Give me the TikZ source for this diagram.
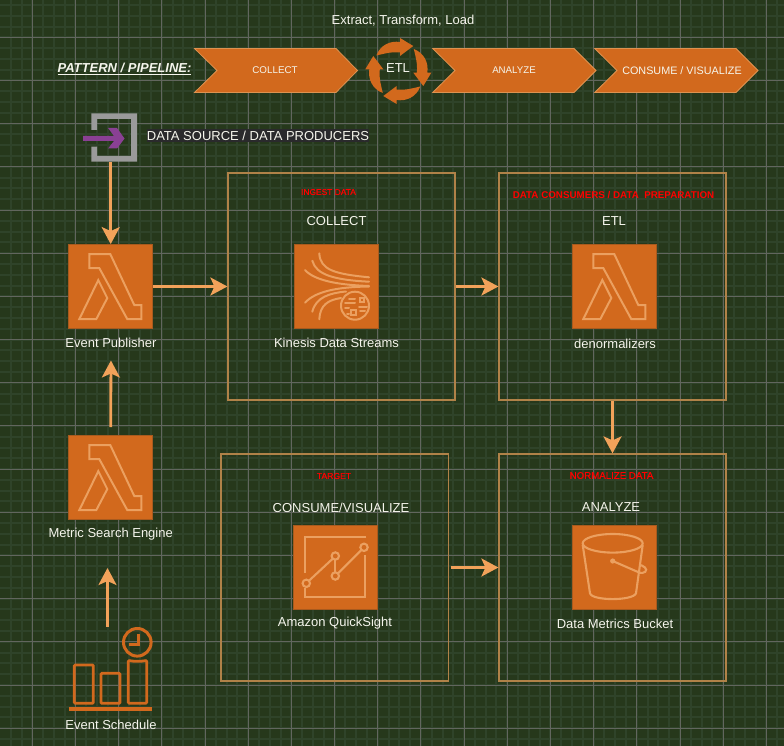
\documentclass[tikz,border=0pt]{standalone}
\usepackage{fontspec}
\setmainfont{Liberation Sans}
\usetikzlibrary{arrows.meta}
\definecolor{bgc}{HTML}{26381B}
\definecolor{gridminor}{HTML}{2F4329}
\definecolor{gridmajor}{HTML}{62665E}
\definecolor{orfill}{HTML}{D2691D}
\definecolor{orline}{HTML}{DD9250}
\definecolor{ordark}{HTML}{A85A1E}
\definecolor{iconc}{HTML}{EBA060}
\definecolor{arrowc}{HTML}{F2A25A}
\definecolor{framec}{HTML}{B08248}
\definecolor{txtc}{HTML}{F5F5EC}
\definecolor{srcgray}{HTML}{9A9A9A}
\definecolor{srcpurple}{HTML}{8A4094}
\definecolor{srcbg}{HTML}{2A2A2C}
\newcommand\fsz[1]{\fontsize{#1}{#1}\selectfont}
\newcommand\lambdaicon[1]{%
  \draw[iconline,shift={(#1.north west)}] (21,10)--(42,10)--(66,61)--(73,61)--(73,75)--(59,75)--(31,24)--(21,24)--cycle;
  \draw[iconline,shift={(#1.north west)}] (30,36)--(39,54)--(28,75)--(11,75)--cycle;}
\tikzset{
  iconbox/.style={draw=ordark,fill=orfill,line width=0.8pt,minimum width=84pt,minimum height=84pt,inner sep=0pt},
  iconline/.style={draw=iconc,line width=2pt,line join=miter},
  frameb/.style={draw=framec,line width=1.2pt,minimum width=#1,minimum height=227pt,inner sep=0pt},
  flow/.style={draw=arrowc,line width=2.8pt,-{Stealth[length=17pt,width=18pt,inset=4pt]}},
  chev/.style={fill=orfill,draw=orline,line width=0.8pt,line join=miter},
  lbl/.style={text=txtc,inner sep=0pt,font=\fsz{13}},
  head/.style={text=txtc,inner sep=0pt,font=\fsz{13}},
  redb/.style={text=red,inner sep=0pt},
  chevt/.style={text=txtc,inner sep=0pt},
}
\begin{document}
\begin{tikzpicture}[x=1pt,y=-1pt]
\useasboundingbox (0,0) rectangle (784,746);
\fill[bgc] (0,0) rectangle (784,746);
% grid
\foreach \i in {-2,...,69} {\draw[gridminor,line width=2pt] ({32.3+10.795*\i},0) -- ({32.3+10.795*\i},746);}
\foreach \i in {-3,...,65} {\draw[gridminor,line width=2pt] (0,{37.3+10.795*\i}) -- (784,{37.3+10.795*\i});}
\foreach \i in {0,...,17} {\draw[gridmajor,line width=0.9pt] ({32.3+43.18*\i},0) -- ({32.3+43.18*\i},746);}
\foreach \i in {0,...,16} {\draw[gridmajor,line width=0.9pt] (0,{37.3+43.18*\i}) -- (784,{37.3+43.18*\i});}

% pipeline
\node[text=txtc,inner sep=0pt,font=\fsz{13}\bfseries\itshape] (pat) at (124.5,69) {\underline{PATTERN / PIPELINE:}};
\draw[chev] (194.5,48.5)--(336,48.5)--(357.5,70.5)--(336,92.5)--(194.5,92.5)--(217,70.5)--cycle;
\node[chevt,font=\fsz{9.8}] (p1) at (275,70.5) {COLLECT};
\draw[chev] (432.7,48.5)--(574,48.5)--(596,70.5)--(574,92.5)--(432.7,92.5)--(455,70.5)--cycle;
\node[chevt,font=\fsz{9.7}] (p2) at (514,70.5) {ANALYZE};
\draw[chev] (594.7,48.5)--(736,48.5)--(758,70.5)--(736,92.5)--(594.7,92.5)--(617,70.5)--cycle;
\node[chevt,font=\fsz{10.8}] (p3) at (682,70.5) {CONSUME / VISUALIZE};
\node[text=txtc,inner sep=0pt,font=\fsz{13}] (etlhead) at (403,20.5) {Extract, Transform, Load};
\foreach \r in {0,90,180,270} {
  \fill[orfill,shift={(398.3,71)},rotate=-\r] (-22,-15.5) .. controls (-18,-26) and (-8,-30.5) .. (1.7,-29) -- (1.7,-33) -- (15,-25) -- (1.7,-15) -- (1.7,-18.5) .. controls (-8,-19.5) and (-15,-17) .. cycle;
}
\node[text=txtc,inner sep=0pt,font=\fsz{13}] (etlc) at (398,68) {ETL};

% data source
\fill[srcgray] (91.3,113.3)--(137,113.3)--(137,161.7)--(91.3,161.7)--(91.3,146.7)--(97,146.7)--(97,156)--(131,156)--(131,119)--(97,119)--(97,130)--(91.3,130)--cycle;
\fill[srcpurple] (108,128)--(117,128)--(124.5,138.5)--(117,148.5)--(108,148.5)--(114,141)--(83,141)--(83,136)--(114,136)--cycle;
\node[fill=srcbg,text=txtc,inner xsep=0pt,inner ysep=1.5pt,font=\fsz{13}] (srct) at (258,135.5) {DATA SOURCE / DATA PRODUCERS};
\coordinate (srcb) at (110.7,162);

% frames
\node[frameb=227pt] (collectf) at (341.5,286.5) {};
\node[frameb=227pt] (etlf) at (612.5,286.5) {};
\node[frameb=227.5pt] (targetf) at (334.8,567.5) {};
\node[frameb=227pt] (normf) at (612.5,567.5) {};

% frame titles
\node[redb,font=\fsz{8.4}\addfontfeature{FakeBold=0.6}] (t1) at (328.5,192) {INGEST DATA};
\node[head] (t1b) at (336.5,221) {COLLECT};
\node[redb,font=\fsz{9.8}\bfseries] (t2) at (613.5,195.5) {DATA CONSUMERS / DATA\ \ PREPARATION};
\node[head] (t2b) at (614,221) {ETL};
\node[redb,font=\fsz{8.6}\addfontfeature{FakeBold=0.6}] (t3) at (334,476) {TARGET};
\node[head] (t3b) at (341,508) {CONSUME/VISUALIZE};
\node[redb,font=\fsz{9.7}\addfontfeature{FakeBold=0.6}] (t4) at (611.5,475.5) {NORMALIZE DATA};
\node[head] (t4b) at (611,507) {ANALYZE};

% icon boxes
\node[iconbox] (pub) at (110.7,286.5) {};
\node[iconbox] (metric) at (110.7,477.5) {};
\node[iconbox] (kin) at (336.5,286.5) {};
\node[iconbox] (den) at (614.7,286.5) {};
\node[iconbox] (qs) at (335,567) {};
\node[iconbox] (bucket) at (614.7,567) {};
\lambdaicon{pub}
\lambdaicon{metric}
\lambdaicon{den}

\node[lbl] (pubt) at (111,342.5) {Event Publisher};
\node[lbl] (kint) at (336.5,342.5) {Kinesis Data Streams};
\node[lbl] (dent) at (615,343.5) {denormalizers};
\node[lbl] (mett) at (110.7,534.5) {Metric Search Engine};
\node[lbl] (qst) at (335,623.5) {Amazon QuickSight};
\node[lbl] (bukt) at (615,623.5) {Data Metrics Bucket};
\node[lbl] (scht) at (111,724.5) {Event Schedule};

% kinesis icon
\begin{scope}[draw=iconc,line width=2pt,line cap=round]
\draw (319.3,253.3) .. controls (320,270) and (335,274) .. (369,277.3);
\draw (312.3,260.7) .. controls (316,275) and (335,280) .. (369,281.7);
\draw (305,270) .. controls (315,281) and (340,285) .. (369,286);
\draw (305,302.7) .. controls (315,292) and (335,287) .. (369,286.5);
\draw (312.3,311.7) .. controls (316,297) and (330,293) .. (346,291.5);
\draw (319.3,319.3) .. controls (320,305) and (328,300) .. (341,298);
\draw (355,305.7) circle (14);
\draw (349,298.5)--(355,298.5);
\draw (345,302.5)--(355,302.5);
\draw (359.5,297.5) rectangle (364,302);
\draw (359,307)--(367,307);
\draw (360,311)--(365,311);
\draw (345,308)--(349,308);
\draw (351,309.5) rectangle (356,315);
\draw (347,314)--(349,314);
\end{scope}

% quicksight icon
\begin{scope}[draw=iconc,line width=2.1pt]
\draw (366.3,536.7)--(304.7,536.7)--(304.7,573.3);
\draw (304.7,588.3)--(304.7,596.7)--(365.3,596.7)--(365.3,555);
\draw (306.3,583.3) circle (3.7);
\draw (335.3,556) circle (3.7);
\draw (335.3,576) circle (3.7);
\draw (364,547.3) circle (3.7);
\draw (309,580.7)--(332.7,558.7);
\draw (335.3,559.7)--(335.3,572.3);
\draw (338,573.3)--(361.3,550);
\end{scope}

% bucket icon
\begin{scope}[draw=iconc,line width=2.1pt]
\draw (612.7,543.3) ellipse (30 and 9.3);
\draw (582.7,545) -- (590,593.3) .. controls (592,601) and (633,601) .. (636,593.3) -- (642.7,545);
\fill[iconc] (612.7,561) circle (2.6);
\draw (612.7,561) -- (638,572) .. controls (645,575) and (648,570) .. (645,567.5) .. controls (643,565.5) and (640,565) .. (640,565);
\end{scope}

% schedule icon
\begin{scope}[draw=orfill,line width=2.8pt,rounded corners=1pt]
\draw (74.3,665) rectangle (93.3,703.3);
\draw (101,673.3) rectangle (120,703.3);
\draw (128.3,660.5) .. controls (134,661.5) and (141,661.5) .. (146.7,660.5) -- (146.7,703.3) -- (128.3,703.3) -- cycle;
\end{scope}
\draw[orfill,line width=3.2pt] (69,709) -- (152.3,709);
\draw[orfill,line width=3pt] (137.3,642.3) circle (13.8);
\draw[orfill,line width=2.6pt] (138.3,634) -- (138.3,644.3) -- (129.3,644.3);

% connectors
\coordinate (schedtop) at (107.5,627);
\coordinate (mettop) at (107.5,568);
\draw[flow] (srcb) -- (pub.north);
\draw[flow] (pub.east) -- (collectf.west);
\draw[flow] (collectf.east) -- (etlf.west);
\draw[flow] (etlf.south) -- (normf.north);
\draw[flow,shorten <=1.5pt] (targetf.east) -- (normf.west);
\draw[flow,shorten <=8pt,shorten >=13pt] (metric.north) -- (pubt.south);
\draw[flow] (schedtop) -- (mettop);
\end{tikzpicture}
\end{document}
